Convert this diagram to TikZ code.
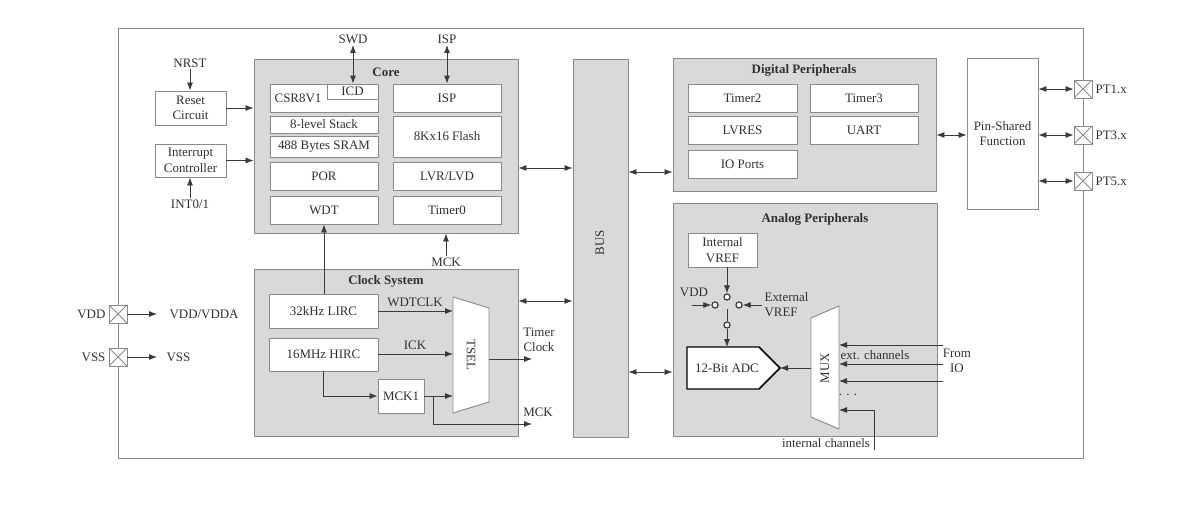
\documentclass[tikz,border=0pt]{standalone}
\usepackage{fontspec}
\setmainfont{Liberation Serif}
\usetikzlibrary{arrows.meta}
\definecolor{gfill}{HTML}{D9D9D9}
\definecolor{gcol}{HTML}{8A8A8A}
\definecolor{tcol}{HTML}{303030}
\definecolor{acol}{HTML}{3A3A3A}
\newcommand\dfont{\fontsize{9.7}{11.6}\selectfont}
% box from corner (x1,y1) to (x2,y2) in px
\newcommand\bx[7]{\node[#6, minimum width={(#4-#2)*0.75pt}, minimum height={(#5-#3)*0.75pt}] (#1) at ({(#2+#4)/2},{(#3+#5)/2}) {#7};}
\tikzset{
  every node/.style={font=\dfont, text=tcol},
  grp/.style={draw=gcol, fill=gfill, line width=0.7pt, inner sep=0pt},
  wbox/.style={draw=gcol, fill=white, line width=0.7pt, inner sep=0pt, align=center},
  lbl/.style={inner sep=1pt, align=center},
  ttl/.style={inner sep=1pt, font=\dfont\bfseries},
  arr/.style={draw=acol, line width=0.6pt, -{Latex[length=6pt,width=4.5pt]}},
  darr/.style={draw=acol, line width=0.6pt, {Latex[length=6pt,width=4.5pt]}-{Latex[length=6pt,width=4.5pt]}},
  wire/.style={draw=acol, line width=0.6pt},
  pinbox/.style={draw=gcol, fill=white, line width=0.7pt, minimum size=13.5pt, inner sep=0pt,
    path picture={\draw[gcol, line width=0.6pt] (path picture bounding box.north west) -- (path picture bounding box.south east)
      (path picture bounding box.north east) -- (path picture bounding box.south west);}},
  sw/.style={circle, draw=acol, fill=white, line width=0.9pt, minimum size=4.6pt, inner sep=0pt}
}
\begin{document}
\begin{tikzpicture}[x=0.75pt, y=-0.75pt]
\useasboundingbox (0,0) rectangle (1196,507);
% outer frame
\draw[gcol, line width=0.7pt] (118,28) rectangle (1083,458);

% ---------- left: reset / interrupt ----------
\node[lbl] (nrst) at (190,63) {NRST};
\bx{reset}{155}{91}{226}{125}{wbox}{Reset\\Circuit}
\bx{intc}{155}{144}{226}{177}{wbox}{Interrupt\\Controller}
\node[lbl] (int01) at (190,204) {INT0/1};

% ---------- Core ----------
\bx{core}{254}{59}{518}{233}{grp}{}
\node[ttl] (coret) at (386,72) {Core};
\bx{csr}{270}{84}{378}{112}{wbox}{}
\node[lbl] (csrt) at (298,98) {CSR8V1};
\bx{icd}{327}{84}{378}{99}{wbox}{ICD}
\bx{stack}{270}{116}{378}{133}{wbox}{8-level Stack}
\bx{sram}{270}{136}{378}{157}{wbox}{488 Bytes SRAM}
\bx{por}{270}{162}{378}{190}{wbox}{POR}
\bx{wdt}{270}{196}{378}{224}{wbox}{WDT}
\bx{isp}{393}{84}{501}{112}{wbox}{ISP}
\bx{flash}{393}{116}{501}{157}{wbox}{8Kx16 Flash}
\bx{lvr}{393}{162}{501}{190}{wbox}{LVR/LVD}
\bx{tim0}{393}{196}{501}{224}{wbox}{Timer0}
\node[lbl] (swd) at (353,39) {SWD};
\node[lbl] (ispl) at (447,39) {ISP};
\node[lbl] (mcktop) at (446,262) {MCK};

% ---------- Clock system ----------
\bx{clk}{254}{269}{518}{436}{grp}{}
\node[ttl] (clkt) at (386,281) {Clock System};
\bx{lirc}{269}{294}{378}{328}{wbox}{32kHz LIRC}
\bx{hirc}{269}{338}{378}{371}{wbox}{16MHz HIRC}
\bx{mck1}{378}{379}{424}{413}{wbox}{MCK1}
\coordinate (tsA) at (453,297);
\coordinate (tsB) at (489,308);
\coordinate (tsC) at (489,402);
\coordinate (tsD) at (453,413);
\draw[gcol, fill=white, line width=0.7pt] (tsA) -- (tsB) -- (tsC) -- (tsD) -- cycle;
\node[lbl, rotate=-90] (tsel) at (471,355) {TSEL};
\node[lbl] (wdtclk) at (415,302) {WDTCLK};
\node[lbl] (ick) at (415,345) {ICK};
\node[lbl] (tclk) at (539,340) {Timer\\Clock};
\node[lbl] (mckout) at (538,412) {MCK};
\coordinate (tsin1) at (453,311);
\coordinate (tsin2) at (453,354);
\coordinate (tsin3) at (453,396);
\coordinate (tsout) at (489,359);
\coordinate (tcend) at (532,359);
\coordinate (hdown) at (323,396);
\coordinate (mckbr) at (433,396);
\coordinate (mckdn) at (433,424);
\coordinate (mckend) at (532,424);

% ---------- BUS ----------
\bx{bus}{573}{59}{628}{437}{grp}{}
\node[lbl, rotate=90] (bust) at (600,243) {BUS};

% ---------- Digital peripherals ----------
\bx{dig}{673}{58}{936}{191}{grp}{}
\node[ttl] (digt) at (804,70) {Digital Peripherals};
\bx{tim2}{688}{84}{797}{112}{wbox}{Timer2}
\bx{tim3}{810}{84}{918}{112}{wbox}{Timer3}
\bx{lvres}{688}{116}{797}{144}{wbox}{LVRES}
\bx{uart}{810}{116}{918}{144}{wbox}{UART}
\bx{iop}{688}{150}{797}{178}{wbox}{IO Ports}

% ---------- Pin-shared ----------
\bx{psf}{967}{58}{1038}{209}{wbox}{Pin-Shared\\Function}
\node[pinbox] (pt1) at (1083,89) {};
\node[pinbox] (pt3) at (1083,135) {};
\node[pinbox] (pt5) at (1083,181) {};
\node[lbl, anchor=west] (pt1l) at (1094,89) {PT1.x};
\node[lbl, anchor=west] (pt3l) at (1094,135) {PT3.x};
\node[lbl, anchor=west] (pt5l) at (1094,181) {PT5.x};

% ---------- power pins ----------
\node[pinbox] (vddp) at (118,314) {};
\node[pinbox] (vssp) at (118,357) {};
\node[lbl, anchor=east] (vddl) at (107,314) {VDD};
\node[lbl, anchor=east] (vssl) at (107,357) {VSS};
\node[lbl, anchor=west] (vdda) at (168,314) {VDD/VDDA};
\node[lbl, anchor=west] (vsso) at (165,357) {VSS};
\coordinate (vddend) at (157,314);
\coordinate (vssend) at (157,357);

% ---------- Analog peripherals ----------
\bx{ana}{673}{203}{937}{436}{grp}{}
\node[ttl] (anat) at (815,219) {Analog Peripherals};
\bx{ivref}{688}{233}{757}{267}{wbox}{Internal\\VREF}
\node[sw] (ctop) at (727,297) {};
\node[sw] (cl) at (715,305) {};
\node[sw] (cr) at (739,305) {};
\node[sw] (cb) at (727,325) {};
\node[lbl] (vddA) at (694,292) {VDD};
\node[lbl, anchor=west, align=left] (evref) at (763,304.5) {External\\VREF};
\coordinate (ivout) at (727,267);
\coordinate (vddin) at (692,305);
\coordinate (evin) at (762,305);
\coordinate (blade) at (727,309);
\coordinate (adcin) at (727,347);
\coordinate (adA) at (687,347);
\coordinate (adB) at (759,347);
\coordinate (adC) at (780,368);
\coordinate (adD) at (759,389);
\coordinate (adE) at (687,389);
\draw[black, fill=white, line width=1.1pt] (adA) -- (adB) -- (adC) -- (adD) -- (adE) -- cycle;
\node[lbl] (adc) at (727,368) {12-Bit ADC};
\coordinate (mxA) at (811,318);
\coordinate (mxB) at (839,306);
\coordinate (mxC) at (839,429);
\coordinate (mxD) at (811,417);
\draw[gcol, fill=white, line width=0.7pt] (mxA) -- (mxB) -- (mxC) -- (mxD) -- cycle;
\node[lbl, rotate=90] (mux) at (825,368) {MUX};
\coordinate (muxout) at (811,368);
\coordinate (e1s) at (943,345);
\coordinate (e2s) at (943,364);
\coordinate (e3s) at (943,381);
\coordinate (icbot) at (874,450);
\coordinate (iccorner) at (874,410);
\node[lbl] (extch) at (875,355) {ext. channels};
\node[lbl] (fromio) at (957,361) {From\\IO};
\node[lbl] (dots) at (848,395) {. . .};
\node[lbl] (intch) at (826,443) {internal channels};

% ---------- connectors ----------
\draw[arr] (nrst.south) -- (nrst.south |- reset.north);
\draw[arr] (int01.north) -- (int01.north |- intc.south);
\draw[arr] (reset.east) -- (reset.east -| core.west);
\draw[arr] (intc.east) -- (intc.east -| core.west);
\draw[darr] (swd.south) -- (swd.south |- icd.north);
\draw[darr] (ispl.south) -- (ispl.south |- isp.north);
\draw[arr] (mcktop.north) -- (mcktop.north |- core.south);
\draw[arr] (lirc.north -| wdt.south) -- (wdt.south);
\draw[darr] (core.east |- 0,168) -- (bus.west |- 0,168);
\draw[darr] (clk.east |- 0,301) -- (bus.west |- 0,301);
\draw[darr] (bus.east |- 0,172) -- (dig.west |- 0,172);
\draw[darr] (bus.east |- 0,372) -- (ana.west |- 0,372);
\draw[darr] (dig.east |- 0,135) -- (psf.west |- 0,135);
\draw[darr] (psf.east |- pt1) -- (pt1.west);
\draw[darr] (psf.east |- pt3) -- (pt3.west);
\draw[darr] (psf.east |- pt5) -- (pt5.west);
\draw[arr] (vddp.east) -- (vddend);
\draw[arr] (vssp.east) -- (vssend);
% clock system
\draw[arr] (lirc.east |- tsin1) -- (tsin1);
\draw[arr] (hirc.east |- tsin2) -- (tsin2);
\draw[arr] (hirc.south -| hdown) -- (hdown) -- (mck1.west);
\draw[arr] (mck1.east) -- (tsin3);
\draw[arr] (mckbr) -- (mckdn) -- (mckend);
\draw[arr] (tsout) -- (tcend);
% analog
\draw[arr] (ivout) -- (ctop.north);
\draw[arr] (vddin) -- (cl.west);
\draw[arr] (evin) -- (cr.east);
\draw[wire] (cb.north) -- (blade);
\draw[arr] (cb.south) -- (adcin);
\draw[arr] (muxout) -- (adC);
\draw[arr] (e1s) -- (e1s -| mxB);
\draw[arr] (e2s) -- (e2s -| mxB);
\draw[arr] (e3s) -- (e3s -| mxB);
\draw[arr] (icbot) -- (iccorner) -- (iccorner -| mxB);
\end{tikzpicture}
\end{document}
